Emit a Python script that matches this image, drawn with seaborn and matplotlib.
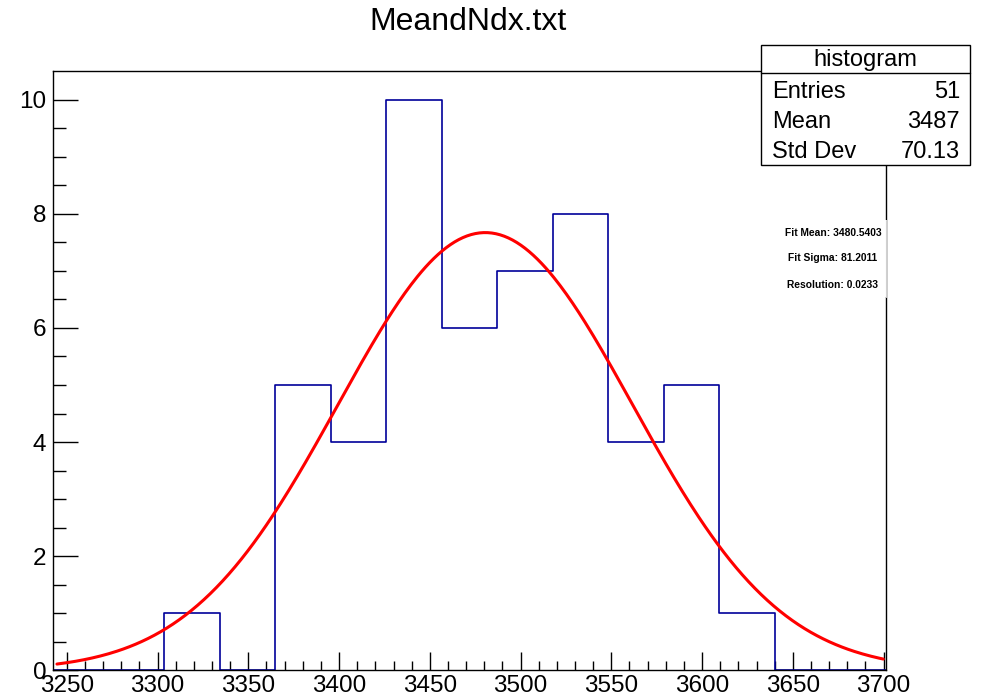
import numpy as np
import pandas as pd
import matplotlib
matplotlib.use("Agg")
import matplotlib.pyplot as plt
from matplotlib.ticker import MultipleLocator, FixedLocator
from matplotlib.patches import Rectangle
from matplotlib.lines import Line2D
import seaborn as sns

# ---- data ----
bin_centers = [3257.9, 3288.5, 3319.1, 3349.7, 3380.2, 3410.8, 3441.4, 3472.0,
               3502.6, 3533.1, 3563.7, 3594.3, 3624.9, 3655.5, 3686.0]
bin_counts = [0, 0, 1, 0, 5, 4, 10, 6, 7, 8, 4, 5, 1, 0, 0]
x_min, x_max, n_bins = 3242.6, 3701.3, 15
fit_amp, fit_mean, fit_sigma = 7.67, 3480.5403, 81.2011
stats_labels = ["Entries", "Mean", "Std Dev"]
stats_values = ["51", "3487", "70.13"]
fit_lines = ["Fit Mean: 3480.5403", "Fit Sigma: 81.2011", "Resolution: 0.0233"]
title = "MeandNdx.txt"

sns.set_theme(style="ticks")
plt.rcParams["font.family"] = ["Liberation Sans", "DejaVu Sans"]
plt.rcParams["text.color"] = "black"
plt.rcParams["axes.labelcolor"] = "black"
plt.rcParams["xtick.color"] = "black"
plt.rcParams["ytick.color"] = "black"

fig = plt.figure(figsize=(9.84, 6.99), dpi=100)
ax = fig.add_axes([0.0542, 0.0408, 0.9004 - 0.0542, 0.8984 - 0.0408])

df = pd.DataFrame({"x": bin_centers, "w": bin_counts})
sns.histplot(data=df, x="x", weights="w", bins=n_bins, binrange=(x_min, x_max),
             element="step", fill=False, color="#000099", linewidth=1.2, ax=ax)

xs = np.linspace(x_min + 2, x_max - 1.5, 400)
ys = fit_amp * np.exp(-0.5 * ((xs - fit_mean) / fit_sigma) ** 2)
sns.lineplot(x=xs, y=ys, color="#ff0000", linewidth=2.2, ax=ax)

ax.set_xlim(x_min, x_max)
ax.set_ylim(0, 10.5)
ax.set_xlabel("")
ax.set_ylabel("")
ax.xaxis.set_major_locator(MultipleLocator(50))
ax.xaxis.set_minor_locator(FixedLocator(np.arange(3250, 3701, 10)))
ax.yaxis.set_major_locator(MultipleLocator(2))
ax.yaxis.set_minor_locator(FixedLocator(np.arange(0, 10.01, 0.5)))
ax.tick_params(axis="both", which="both", direction="in", top=False, right=False,
               colors="black", labelcolor="black", labelsize=17.5)
ax.tick_params(axis="x", which="major", length=13, width=1, pad=3)
ax.tick_params(axis="x", which="minor", length=6.5, width=1)
ax.tick_params(axis="y", which="major", length=18, width=1, pad=5)
ax.tick_params(axis="y", which="minor", length=9, width=1)
for s in ax.spines.values():
    s.set_visible(True)
    s.set_color("black")
    s.set_linewidth(1.0)

fig.text(0.476, 0.968, title, ha="center", va="center", fontsize=23, color="black")

# stats box
x0, x1, yb, yt = 0.7734, 0.9858, 0.7639, 0.9356
fig.patches.append(Rectangle((x0, yb), x1 - x0, yt - yb, transform=fig.transFigure,
                             facecolor="white", edgecolor="black", linewidth=1.0, zorder=5))
fig.lines.append(Line2D([x0, x1], [0.8956, 0.8956], transform=fig.transFigure,
                        color="black", linewidth=1.0, zorder=6))
fig.text((x0 + x1) / 2, 0.9145, "histogram", ha="center", va="center", fontsize=17,
         color="black", zorder=7)
for lab, val, yy in zip(stats_labels, stats_values, [0.8685, 0.8256, 0.7827]):
    fig.text(0.7846, yy, lab, ha="left", va="center", fontsize=17, color="black", zorder=7)
    fig.text(0.9756, yy, val, ha="right", va="center", fontsize=17, color="black", zorder=7)

# fit text box
fig.patches.append(Rectangle((0.786, 0.5751), 0.9015 - 0.786, 0.6853 - 0.5751,
                             transform=fig.transFigure, facecolor="white",
                             edgecolor="none", zorder=5))
fig.lines.append(Line2D([0.9004, 0.9004], [0.5751, 0.6853], transform=fig.transFigure,
                        color="#d0d0d0", linewidth=0.8, zorder=6))
for line, yy in zip(fit_lines, [0.6667, 0.6309, 0.5923]):
    fig.text(0.8465, yy, line, ha="center", va="center", fontsize=7.4,
             fontweight="bold", color="black", zorder=7)

fig.savefig("out.png", dpi=100, facecolor="white")
